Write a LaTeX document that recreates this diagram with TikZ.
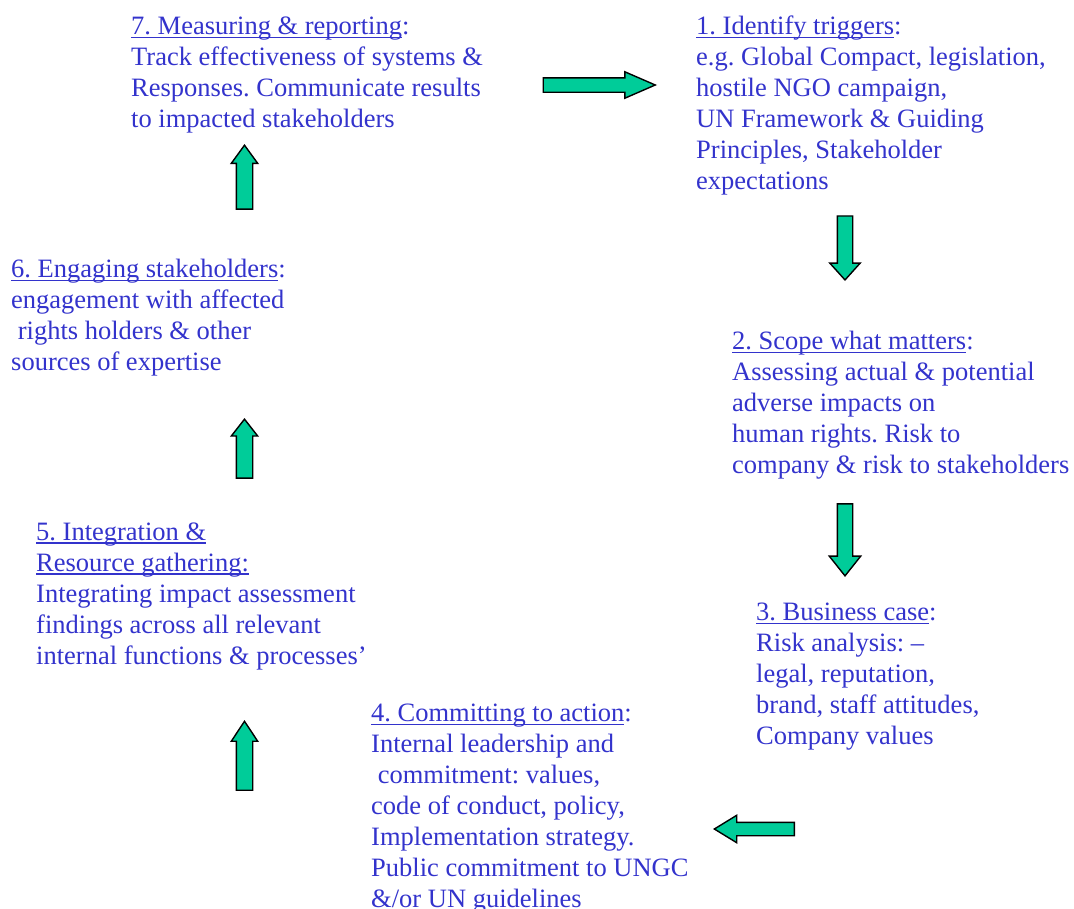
\documentclass[tikz,border=0pt]{standalone}
\usepackage{fontspec}
\setmainfont{Liberation Serif}
\usepackage{tikz}
\usetikzlibrary{shapes.arrows}
\definecolor{textblue}{RGB}{51,51,204}
\definecolor{arrowgreen}{RGB}{0,204,153}
\newcommand\uhead[1]{\setbox0\hbox{#1}\rlap{\rule[-3.6pt]{\wd0}{1.6pt}}\box0}
\frenchspacing
\tikzset{stagetext/.style={anchor=base west, align=left, inner sep=0pt, text=textblue, font=\fontsize{26.5}{31}\selectfont}, blockarr/.style={single arrow, anchor=tip, draw=black, fill=arrowgreen, line width=1.4pt, inner sep=7pt, single arrow head extend=6pt, single arrow head indent=0pt}}
\begin{document}
\begin{tikzpicture}[x=1pt,y=-1pt]
\useasboundingbox (0,0) rectangle (1074,908);
\node[stagetext] (measure) at (131,127.5) {\uhead{7. Measuring \& reporting}:\\
Track effectiveness of systems \&\\
Responses. Communicate results\\
to impacted stakeholders};
\node[stagetext] (trigger) at (696,189.5) {\uhead{1. Identify triggers}:\\
e.g. Global Compact, legislation,\\
hostile NGO campaign,\\
UN Framework \& Guiding\\
Principles, Stakeholder\\
expectations};
\node[stagetext] (scope) at (732,473.5) {\uhead{2. Scope what matters}:\\
Assessing actual \& potential\\
adverse impacts on\\
human rights. Risk to\\
company \& risk to stakeholders};
\node[stagetext] (case) at (756,744.5) {\uhead{3. Business case}:\\
Risk analysis: –\\
legal, reputation,\\
brand, staff attitudes,\\
Company values};
\node[stagetext] (commit) at (371,907.5) {\uhead{4. Committing to action}:\\
Internal leadership and\\
\ commitment: values,\\
code of conduct, policy,\\
Implementation strategy.\\
Public commitment to UNGC\\
\&/or UN guidelines};
\node[stagetext] (integrate) at (36,664) {\uhead{5. Integration \&}\\
\uhead{Resource gathering:}\\
Integrating impact assessment\\
findings across all relevant\\
internal functions \& processes’};
\node[stagetext] (engage) at (11,370.5) {\uhead{6. Engaging stakeholders}:\\
engagement with affected\\
\ rights holders \& other\\
sources of expertise};
\node[blockarr, minimum height=112pt, inner sep=6.5pt, single arrow tip angle=47] (a71) at (657,85) {};
\node[blockarr, minimum height=64pt, single arrow head extend=7.5pt, single arrow tip angle=84, shape border rotate=270] (a12) at (845,281) {};
\node[blockarr, minimum height=72pt, single arrow head extend=8pt, single arrow tip angle=77, shape border rotate=270] (a23) at (845,577) {};
\node[blockarr, minimum height=80pt, inner sep=6pt, single arrow head extend=7pt, single arrow tip angle=63, shape border rotate=180] (a34) at (713,829) {};
\node[blockarr, minimum height=69pt, inner sep=7.5pt, single arrow head extend=5pt, single arrow tip angle=67, shape border rotate=90] (a45) at (244.5,720) {};
\node[blockarr, minimum height=59pt, inner sep=7.5pt, single arrow head extend=5pt, single arrow tip angle=76, shape border rotate=90] (a56) at (244.5,418) {};
\node[blockarr, minimum height=64pt, inner sep=7.5pt, single arrow head extend=5pt, single arrow tip angle=72, shape border rotate=90] (a67) at (244.5,144) {};
\end{tikzpicture}
\end{document}
